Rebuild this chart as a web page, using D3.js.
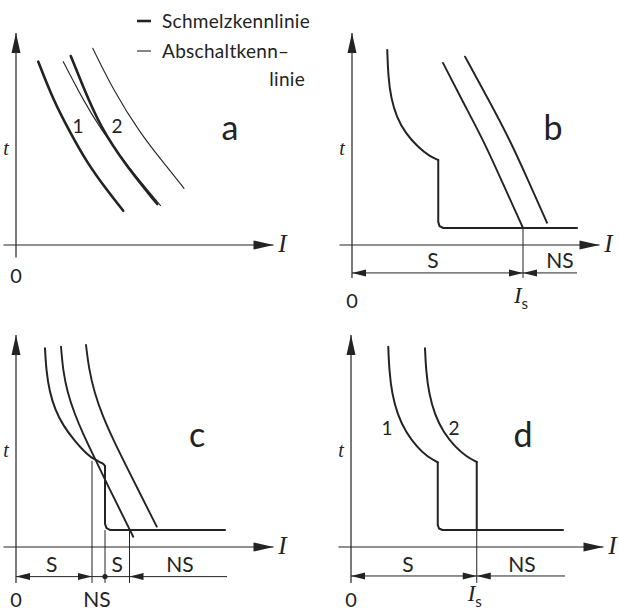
<!DOCTYPE html>
<html>
<head>
<meta charset="utf-8">
<script src="https://cdn.jsdelivr.net/npm/d3@7"></script>
<style>
  body { margin: 0; background: #fff; }
  text { font-family: Lato, "Open Sans", sans-serif; fill: #232323; }
</style>
</head>
<body>
<div id="main"></div>
<script>
// size of the page
const width = 619, height = 614;
const ink = '#232323';

// panel a: fuse curves (x = current, y = time, both 0..100)
const aMelt1  = [[8.9, 87.3], [14.9, 69.0], [21.6, 53.7], [28.3, 39.4], [36.3, 26.2], [42.9, 16.3]];
const aClear1 = [[18.9, 87.3], [26.9, 69.0], [33.6, 55.6], [44.9, 37.0], [57.8, 18.8]];
const aMelt2  = [[21.9, 90.0], [26.3, 77.0], [33.6, 56.3], [44.3, 37.3], [56.5, 19.5]];
const aClear2 = [[30.7, 93.7], [38.9, 73.8], [49.6, 53.2], [60.3, 37.3], [67.2, 27.0]];

// panel b: breaker + fuse
const bBreakerCurve = [[14.1, 92.9], [14.5, 80.0], [15.6, 70.0], [17.8, 61.0], [21.5, 53.0], [26.5, 46.5], [31.0, 42.3], [34.5, 40.5]];
const bBreakerStep  = [[34.5, 40.5], [34.5, 11.0], [35.0, 9.0], [36.5, 8.1], [90.0, 8.1]];
const bFuse1 = [[36.4, 86.7], [44.6, 67.6], [52.5, 50.0], [60.4, 29.2], [68.4, 8.1]];
const bFuse2 = [[45.2, 89.7], [54.3, 69.9], [63.2, 50.0], [70.7, 30.1], [78.0, 10.6]];
const bIs = 68.4;

// panel c: breaker + two fuses
const cBreakerCurve = [[11.6, 94.6], [12.1, 84.0], [13.4, 74.0], [15.6, 65.5], [19.0, 57.5], [23.5, 50.5], [28.5, 44.0], [31.5, 41.6], [34.9, 39.8], [35.6, 38.6]];
const cBreakerStep  = [[35.6, 38.6], [35.6, 11.0], [36.2, 9.0], [37.6, 8.1], [83.6, 8.1]];
const cFuse1 = [[18.0, 95.4], [18.8, 84.0], [20.6, 73.5], [23.4, 63.5], [26.8, 54.0], [30.3, 45.2], [36.3, 30.3], [46.9, 4.9]];
const cFuse2 = [[28.0, 96.2], [29.2, 84.5], [31.4, 73.5], [34.6, 62.5], [38.9, 51.0], [46.9, 31.9], [56.3, 9.7]];
const cGuides = [[30.4, 41.0], [35.6, 8.1], [45.4, 8.1]];   // [x, top]

// panel d: two breakers
const dBreaker1Curve = [[14.9, 95.4], [15.3, 84.0], [16.4, 73.0], [18.6, 63.0], [22.0, 54.5], [26.5, 47.5], [30.5, 43.0], [34.7, 40.3]];
const dBreaker1Step  = [[34.7, 40.3], [34.7, 10.5], [35.2, 8.8], [36.6, 8.1], [84.8, 8.1]];
const dBreaker2Curve = [[29.6, 94.6], [30.0, 84.0], [31.2, 73.0], [33.5, 63.0], [37.0, 54.5], [41.8, 47.5], [46.2, 43.0], [50.3, 40.5]];
const dBreaker2Step  = [[50.3, 40.5], [50.3, 8.1]];
const dIs = 50.3;

// axis / dimension layout per panel
const panels = [
  { id: 'a', ox: 16,  oy: 245, xEnd: 103, yBottom: -6 },
  { id: 'b', ox: 352, oy: 245, xEnd: 99,  yBottom: -15.7 },
  { id: 'c', ox: 16,  oy: 547, xEnd: 103, yBottom: -17.1 },
  { id: 'd', ox: 351, oy: 547, xEnd: 101, yBottom: -17.1 }
];

const svg = d3.select('#main')
  .append('svg')
  .attr('width', width)
  .attr('height', height);

function scalesFor(p) {
  return {
    x: d3.scaleLinear().domain([0, 100]).range([p.ox, p.ox + 250]),
    y: d3.scaleLinear().domain([0, 100]).range([p.oy, p.oy - 210])
  };
}

function drawLine(g, s, pts, w, curve) {
  g.append('path')
    .attr('fill', 'none')
    .attr('stroke', ink)
    .attr('stroke-width', w)
    .attr('stroke-linecap', 'round')
    .attr('stroke-linejoin', 'round')
    .attr('d', d3.line()
      .x(d => s.x(d[0]))
      .y(d => s.y(d[1]))
      .curve(curve || d3.curveLinear)(pts));
}

// filled arrow head, tip at (x, y), pointing angle in degrees
function arrowHead(g, x, y, angle, len, half) {
  g.append('path')
    .attr('d', `M0,0 L${-len},${-half} L${-len},${half} Z`)
    .attr('fill', ink)
    .attr('transform', `translate(${x},${y}) rotate(${angle})`);
}

function drawAxes(g, s, p) {
  g.append('line')
    .attr('x1', s.x(-5)).attr('x2', s.x(p.xEnd))
    .attr('y1', s.y(0)).attr('y2', s.y(0))
    .attr('stroke', ink).attr('stroke-width', 1.2);
  g.append('line')
    .attr('x1', s.x(0)).attr('x2', s.x(0))
    .attr('y1', s.y(p.yBottom)).attr('y2', s.y(101))
    .attr('stroke', ink).attr('stroke-width', 1.2);
  arrowHead(g, s.x(p.xEnd), s.y(0), 0, 20, 4.5);
  arrowHead(g, s.x(0), s.y(101), -90, 20, 4.5);

  g.append('text')
    .attr('x', s.x(p.xEnd) + 9).attr('y', s.y(-3.3))
    .attr('text-anchor', 'middle')
    .style('font-family', '"Liberation Serif", serif')
    .style('font-style', 'italic')
    .style('font-size', '25px')
    .text('I');
  g.append('text')
    .attr('x', s.x(0) - 10).attr('y', s.y(43))
    .attr('text-anchor', 'middle')
    .style('font-family', '"Liberation Serif", serif')
    .style('font-style', 'italic')
    .style('font-size', '20px')
    .text('t');
}

function label(g, s, txt, x, y, size) {
  return g.append('text')
    .attr('x', s.x(x)).attr('y', s.y(y))
    .attr('text-anchor', 'middle')
    .style('font-size', size + 'px')
    .text(txt);
}

function isLabel(g, s, x, y) {
  const t = g.append('text')
    .attr('x', s.x(x) - 2).attr('y', s.y(y))
    .attr('text-anchor', 'middle');
  t.append('tspan')
    .style('font-family', '"Liberation Serif", serif')
    .style('font-style', 'italic')
    .style('font-size', '23px')
    .text('I');
  t.append('tspan')
    .attr('dy', 6)
    .style('font-size', '15px')
    .text('s');
}

// dimension line with arrows: arrows = [[x, dir]] (dir -1 points left, 1 points right)
function dimension(g, s, yv, xTo, arrows, dots) {
  g.append('line')
    .attr('x1', s.x(0)).attr('x2', s.x(xTo))
    .attr('y1', s.y(yv)).attr('y2', s.y(yv))
    .attr('stroke', ink).attr('stroke-width', 1);
  arrows.forEach(a => arrowHead(g, s.x(a[0]), s.y(yv), a[1] < 0 ? 180 : 0, 14, 3.5));
  (dots || []).forEach(xd => g.append('circle')
    .attr('cx', s.x(xd)).attr('cy', s.y(yv)).attr('r', 2.6).attr('fill', ink));
}

function guide(g, s, xv, top, bottom) {
  g.append('line')
    .attr('x1', s.x(xv)).attr('x2', s.x(xv))
    .attr('y1', s.y(top)).attr('y2', s.y(bottom))
    .attr('stroke', ink).attr('stroke-width', 1);
}

const smooth = d3.curveBasis;

// ---- panel a
{
  const p = panels[0], s = scalesFor(p), g = svg.append('g');
  drawAxes(g, s, p);
  drawLine(g, s, aMelt1, 2.6, smooth);
  drawLine(g, s, aClear1, 1.1, smooth);
  drawLine(g, s, aMelt2, 2.6, smooth);
  drawLine(g, s, aClear2, 1.1, smooth);
  label(g, s, '1', 24.8, 53.3, 19);
  label(g, s, '2', 40.4, 53.3, 19);
  label(g, s, 'a', 85.6, 50, 34);
  label(g, s, '0', 0, -18, 20);

  // legend
  const lg = svg.append('g');
  lg.append('line').attr('x1', 137).attr('x2', 151).attr('y1', 21).attr('y2', 21)
    .attr('stroke', ink).attr('stroke-width', 2.6);
  lg.append('line').attr('x1', 137).attr('x2', 151).attr('y1', 51).attr('y2', 51)
    .attr('stroke', ink).attr('stroke-width', 1.1);
  lg.append('text').attr('x', 162).attr('y', 28).style('font-size', '19px')
    .style('letter-spacing', '0.3px').text('Schmelzkennlinie');
  lg.append('text').attr('x', 162).attr('y', 58).style('font-size', '19px')
    .style('letter-spacing', '0.3px').text('Abschaltkenn–');
  lg.append('text').attr('x', 305).attr('y', 86).attr('text-anchor', 'end')
    .style('font-size', '19px').style('letter-spacing', '0.3px').text('linie');
}

// ---- panel b
{
  const p = panels[1], s = scalesFor(p), g = svg.append('g');
  drawAxes(g, s, p);
  drawLine(g, s, bBreakerCurve, 2, smooth);
  drawLine(g, s, bBreakerStep, 2);
  drawLine(g, s, bFuse1, 1.9, smooth);
  drawLine(g, s, bFuse2, 1.9, smooth);
  guide(g, s, bIs, 8.1, p.yBottom);
  dimension(g, s, -13.3, 90, [[0, -1], [bIs, 1], [bIs, -1]]);
  label(g, s, 'S', 32.4, -11, 21);
  label(g, s, 'NS', 83.2, -11, 21);
  label(g, s, 'b', 80.4, 50, 34);
  label(g, s, '0', 0, -30, 20);
  isLabel(g, s, bIs, -27.6);
}

// ---- panel c
{
  const p = panels[2], s = scalesFor(p), g = svg.append('g');
  drawAxes(g, s, p);
  drawLine(g, s, cBreakerCurve, 2, smooth);
  drawLine(g, s, cBreakerStep, 2);
  drawLine(g, s, cFuse1, 1.9, smooth);
  drawLine(g, s, cFuse2, 1.9, smooth);
  cGuides.forEach(gd => guide(g, s, gd[0], gd[1], p.yBottom));
  dimension(g, s, -14.1, 84.4, [[0, -1], [30.4, 1], [45.4, -1]], [35.6]);
  label(g, s, 'S', 14.3, -11.8, 21);
  label(g, s, 'S', 40.5, -11.8, 21);
  label(g, s, 'NS', 65.6, -11.8, 21);
  label(g, s, 'NS', 32.4, -28.6, 21);
  label(g, s, 'c', 72.4, 47.6, 34);
  label(g, s, '0', 0, -28.6, 20);
}

// ---- panel d
{
  const p = panels[3], s = scalesFor(p), g = svg.append('g');
  drawAxes(g, s, p);
  drawLine(g, s, dBreaker1Curve, 2, smooth);
  drawLine(g, s, dBreaker1Step, 2);
  drawLine(g, s, dBreaker2Curve, 2, smooth);
  drawLine(g, s, dBreaker2Step, 2);
  guide(g, s, dIs, 8.1, p.yBottom);
  dimension(g, s, -13.8, 85.6, [[0, -1], [dIs, 1], [dIs, -1]]);
  label(g, s, '1', 14.4, 53.3, 19);
  label(g, s, '2', 41.2, 53.3, 19);
  label(g, s, 'S', 22.8, -11.8, 21);
  label(g, s, 'NS', 68.4, -11.8, 21);
  label(g, s, 'd', 68.8, 47.6, 34);
  label(g, s, '0', 0, -28.6, 20);
  isLabel(g, s, dIs, -25.5);
}
</script>
</body>
</html>
